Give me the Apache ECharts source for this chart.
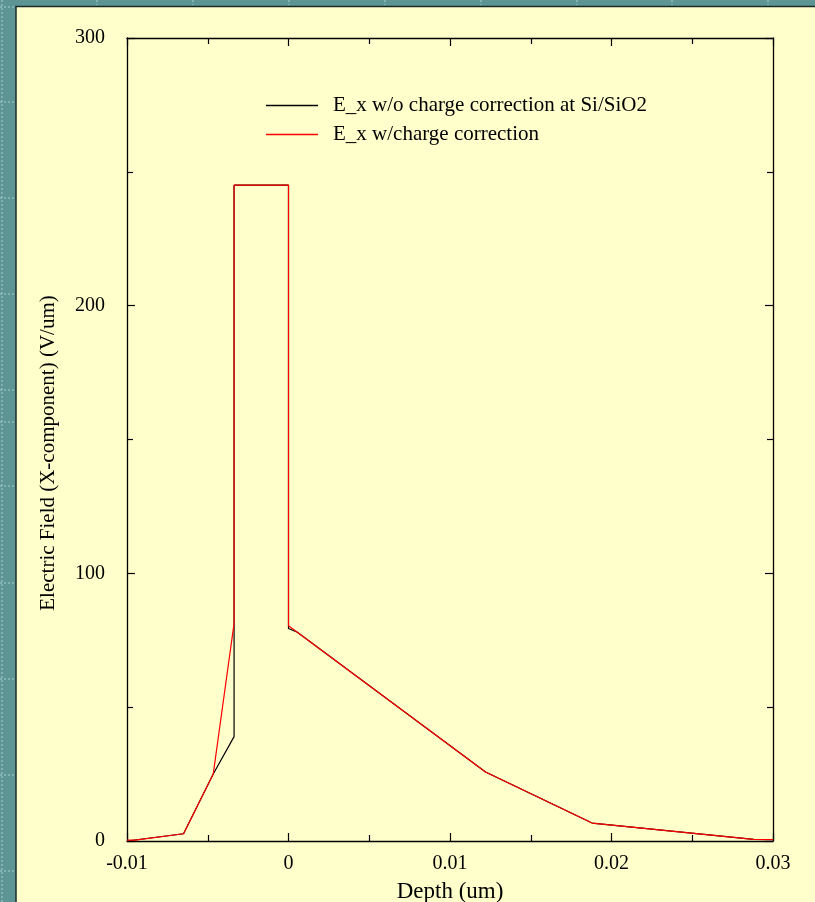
<!DOCTYPE html>
<html>
<head>
<meta charset="utf-8">
<script src="https://cdn.jsdelivr.net/npm/echarts@6/dist/echarts.min.js"></script>
<style>
  html, body { margin: 0; padding: 0; background: #5d9494; overflow: hidden; }
  #chart { width: 815px; height: 902px; }
</style>
</head>
<body>
<div id="chart"></div>
<script>
// Depth (um) / field (V/um) samples for both simulation runs
const depthNoCorr = [-0.01, -0.0065, -0.00466, -0.00337, -0.00337, 0, 0, 0.00055, 0.0122, 0.0188, 0.0288, 0.03];
const fieldNoCorr = [0, 2.7, 25, 39, 245, 245, 79.4, 78.0, 25.8, 6.7, 0.6, 0.5];

const depthCorr = [-0.01, -0.0095, -0.0065, -0.00466, -0.00337, -0.00337, 0, 0, 0.0122, 0.0188, 0.0288, 0.03];
const fieldCorr = [0.3, 0.3, 2.7, 25, 81.3, 245, 245, 80.4, 25.8, 6.7, 0.6, 0.5];

const seriesNames = ['E_x w/o charge correction at Si/SiO2', 'E_x w/charge correction'];
const xTicks = [-0.01, 0, 0.01, 0.02, 0.03];
const yTicks = [0, 100, 200, 300];

const pairs = (xs, ys) => xs.map((x, i) => [x, ys[i]]);
const FONT = '"Liberation Serif", "DejaVu Serif", serif';

const chart = echarts.init(document.getElementById('chart'));

// light dotted marks on the outer frame
const frameMarks = [];
const dash = { stroke: '#a9d0d0', lineWidth: 1, lineDash: [2, 2] };
frameMarks.push({ type: 'line', shape: { x1: 2, y1: 0, x2: 2, y2: 902 }, style: dash, silent: true });
[7, 102, 198, 294, 390, 422, 486, 583, 679, 775, 871].forEach(y => {
  frameMarks.push({ type: 'line', shape: { x1: 0, y1: y, x2: 14, y2: y }, style: dash, silent: true });
});
[97, 193, 289, 385, 481, 577, 672, 768].forEach(x => {
  frameMarks.push({ type: 'line', shape: { x1: x, y1: 0, x2: x, y2: 5 }, style: dash, silent: true });
});

const axisLine = { show: true, onZero: false, lineStyle: { color: '#000', width: 1.3 } };
const tick = { show: true, inside: true, length: 8, lineStyle: { color: '#000', width: 1.2 } };
const minor = { show: true, splitNumber: 2, length: 6, lineStyle: { color: '#000', width: 1.2 } };

chart.setOption({
  backgroundColor: '#5d9494',
  animation: false,
  graphic: [
    ...frameMarks,
    {
      type: 'rect', z: -10, silent: true,
      shape: { x: 16, y: 6.5, width: 805, height: 900 },
      style: { fill: '#ffffcc', stroke: '#1c2b2b', lineWidth: 1.5 }
    }
  ],
  grid: { left: 127, top: 38, right: 42, bottom: 61, containLabel: false, outerBoundsMode: 'none' },
  legend: {
    orient: 'vertical',
    left: 261, top: 90,
    itemWidth: 52, itemHeight: 1.3, itemGap: 8,
    icon: 'rect',
    textStyle: { fontFamily: FONT, fontSize: 21, lineHeight: 21, color: '#000', padding: [0, 0, 0, 10] },
    data: seriesNames
  },
  xAxis: [
    {
      type: 'value', min: -0.01, max: 0.03, interval: 0.01,
      position: 'bottom',
      name: 'Depth (um)', nameLocation: 'middle', nameGap: 39,
      nameTextStyle: { fontFamily: FONT, fontSize: 23, color: '#000' },
      axisLine, axisTick: tick, minorTick: minor,
      splitLine: { show: false },
      axisLabel: {
        margin: 13, fontFamily: FONT, fontSize: 20, color: '#000',
        formatter: v => { const r = Math.round(v * 1000) / 1000; return xTicks.includes(r) ? String(r) : ''; }
      }
    },
    {
      type: 'value', min: -0.01, max: 0.03, interval: 0.01,
      position: 'top',
      axisLine, axisTick: tick, minorTick: minor,
      splitLine: { show: false }, axisLabel: { show: false }
    }
  ],
  yAxis: [
    {
      type: 'value', min: 0, max: 300, interval: 100,
      position: 'left',
      name: 'Electric Field (X-component) (V/um)', nameLocation: 'middle', nameGap: 68,
      nameTextStyle: { fontFamily: FONT, fontSize: 21, color: '#000', padding: [0, 27, 0, 0] },
      axisLine, axisTick: tick, minorTick: minor,
      splitLine: { show: false },
      axisLabel: {
        margin: 22, fontFamily: FONT, fontSize: 20, color: '#000', padding: [8, 0, 0, 0],
        formatter: v => yTicks.includes(v) ? String(v) : ''
      }
    },
    {
      type: 'value', min: 0, max: 300, interval: 100,
      position: 'right',
      axisLine, axisTick: tick, minorTick: minor,
      splitLine: { show: false }, axisLabel: { show: false }
    }
  ],
  series: [
    {
      name: seriesNames[0], type: 'line', xAxisIndex: 0, yAxisIndex: 0,
      data: pairs(depthNoCorr, fieldNoCorr),
      showSymbol: false, symbol: 'none',
      color: '#000000',
      lineStyle: { color: '#000000', width: 1.2 }, z: 2
    },
    {
      name: seriesNames[1], type: 'line', xAxisIndex: 0, yAxisIndex: 0,
      data: pairs(depthCorr, fieldCorr),
      showSymbol: false, symbol: 'none',
      color: '#ff0000',
      lineStyle: { color: '#ff0000', width: 1.2 }, z: 3
    }
  ]
});
</script>
</body>
</html>
